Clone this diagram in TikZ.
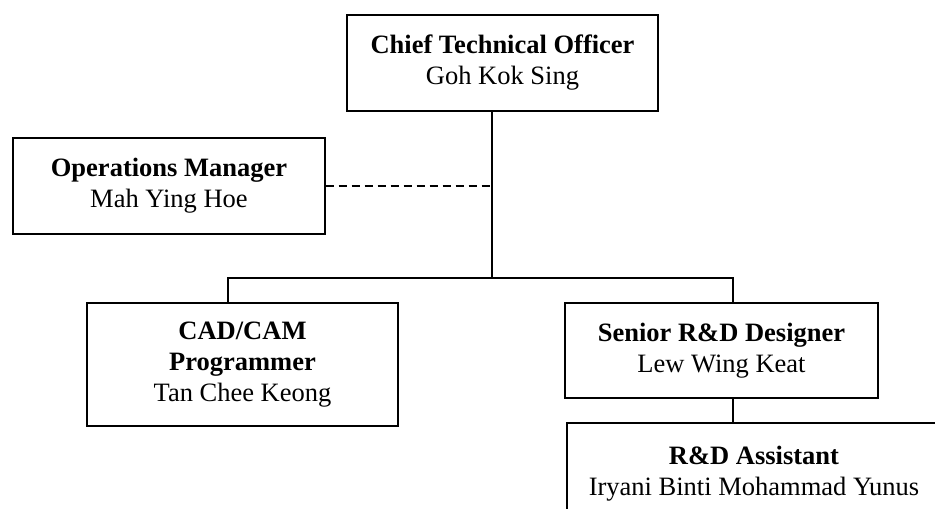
\documentclass[tikz,border=0pt]{standalone}
\usepackage{fontspec}
\setmainfont{Liberation Serif}
\begin{document}
\begin{tikzpicture}[x=1pt,y=-1pt,
  post/.style={draw,line width=1.4pt,align=center,inner sep=0pt,
    font=\fontsize{26.5}{31}\selectfont},
  link/.style={line width=1.4pt}]
\clip (0,0) rectangle (935,509);

\node[post,minimum width=311,minimum height=96] (cto) at (502.5,63)
  {\textbf{Chief Technical Officer}\\Goh Kok Sing};
\node[post,minimum width=312,minimum height=96] (ops) at (169,186)
  {\textbf{Operations Manager}\\Mah Ying Hoe};
\node[post,minimum width=311,minimum height=123] (cad) at (242.5,364.5)
  {\textbf{CAD/CAM}\\\textbf{Programmer}\\Tan Chee Keong};
\node[post,minimum width=313,minimum height=95] (rnd) at (721.5,350.5)
  {\textbf{Senior R\&D Designer}\\Lew Wing Keat};
\node[post,minimum width=374,minimum height=102] (asst) at (754,474)
  {\textbf{R\&D Assistant}\\Iryani Binti Mohammad Yunus};

%junctions
\coordinate (trunk) at (492,278);
\coordinate (left) at (228,278);
\coordinate (right) at (733,278);

\draw[link] (trunk |- cto.south) -- (trunk);
\draw[link,dash pattern=on 8pt off 5pt] (ops.east) -- (ops.east -| trunk);
\draw[link] (left |- cad.north) -- (left) -- (right) -- (right |- rnd.north);
\draw[link] (right |- rnd.south) -- (right |- asst.north);

\end{tikzpicture}
\end{document}
